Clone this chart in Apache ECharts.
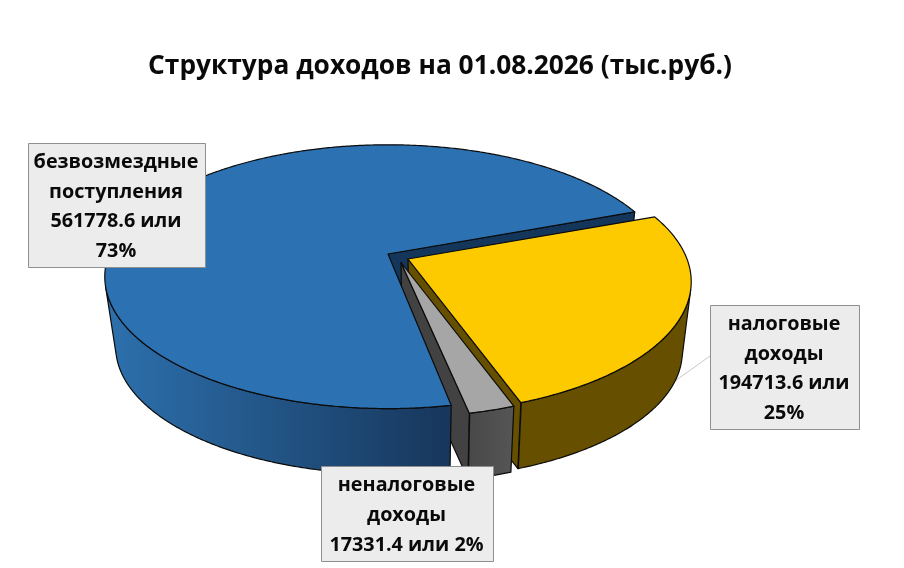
<!DOCTYPE html>
<html>
<head>
<meta charset="utf-8">
<style>html,body{margin:0;padding:0;background:#fff}#c{width:904px;height:568px}</style>
<script src="https://cdn.jsdelivr.net/npm/echarts@6/dist/echarts.min.js"></script>
</head>
<body>
<div id="c"></div>
<script>
const titleText = 'Структура доходов на 01.08.2026 (тыс.руб.)';
const categories = ['налоговые доходы', 'неналоговые доходы', 'безвозмездные поступления'];
const values = [194713.6, 17331.4, 561778.6];
const percents = [25, 2, 73];
const labelBreaks = [
  ['налоговые', 'доходы', '@v или', '@p%'],
  ['неналоговые', 'доходы', '@v или @p%'],
  ['безвозмездные', 'поступления', '@v или', '@p%']
];
const topColors = ['#fdca00', '#a6a6a6', '#2c72b3'];

/* 3D projection settings of the tilted pie */
const START = 69.6, R = 279, B = 128, K = 0.172, DEPTH_SCALE = 0.965, DEPTH_Y = 71, DEPTH_X = 1;
const APEX = [[408, 259], [401, 262.5], [388, 254]];
const START_NUDGE = [0, 0, 0.9]; /* the exploded blue slice reads slightly narrower under perspective */
const BOXES = [[710, 305, 149, 124], [321, 466, 172, 95], [28, 143, 177, 124]];

const total = values.reduce((a, b) => a + b, 0);
const spans = []; let acc = START;
values.forEach((v, i) => { const s = v / total * 360; spans.push([acc + START_NUDGE[i], acc + s]); acc += s; });

function pt(i, deg, bottom) {
  const t = deg * Math.PI / 180, u = Math.sin(t), v = -Math.cos(t), s = 1 / (1 - K * v);
  const dx = R * u * s, dy = B * v * s, a = APEX[i];
  return bottom ? [a[0] + DEPTH_X + DEPTH_SCALE * dx, a[1] + DEPTH_Y + DEPTH_SCALE * dy]
                : [a[0] + dx, a[1] + dy];
}
function arc(i, a, b, bottom) {
  const out = [], n = Math.max(2, Math.ceil(Math.abs(b - a) * 2));
  for (let j = 0; j <= n; j++) out.push(pt(i, a + (b - a) * j / n, bottom));
  return out;
}
function topPts(i) { return [[APEX[i][0], APEX[i][1]]].concat(arc(i, spans[i][0], spans[i][1], false)); }
function outerPts(i) {
  let lo = null, hi = null;
  for (let d = spans[i][0]; d <= spans[i][1]; d += 0.25) {
    const p = pt(i, d), q = pt(i, d + 0.25), b = pt(i, d, true);
    const cross = (q[0] - p[0]) * (b[1] - p[1]) - (q[1] - p[1]) * (b[0] - p[0]);
    if (cross < 0) { if (lo === null) lo = d; hi = d; }
  }
  return arc(i, lo, hi, false).concat(arc(i, hi, lo, true));
}
function wallPts(i, deg) {
  return [[APEX[i][0], APEX[i][1]], pt(i, deg), pt(i, deg, true), [APEX[i][0] + DEPTH_X, APEX[i][1] + DEPTH_Y]];
}
const grad = (x, x2, c1, c2) => ({ type: 'linear', x, y: 0, x2, y2: 0, global: true,
  colorStops: [{ offset: 0, color: c1 }, { offset: 1, color: c2 }] });

const layers = [
  { pts: () => wallPts(2, spans[2][1]), fill: '#14365a' },
  { pts: () => wallPts(0, spans[0][1]), fill: '#665000' },
  { pts: () => wallPts(1, spans[1][1]), fill: '#424242' },
  { pts: () => outerPts(2), fill: grad(115, 452, '#2c6fab', '#17365b') },
  { pts: () => topPts(2), fill: topColors[2] },
  { pts: () => outerPts(1), fill: grad(468, 512, '#484848', '#555555') },
  { pts: () => topPts(1), fill: topColors[1] },
  { pts: () => outerPts(0), fill: '#665000' },
  { pts: () => topPts(0), fill: topColors[0] }
];

const fmt = i => labelBreaks[i].map(s => s.replace('@v', values[i]).replace('@p', percents[i]));
const labelGraphics = [];
const FONT = '"Open Sans"';
values.forEach((_, i) => {
  const [x, y, w, h] = BOXES[i];
  labelGraphics.push({ type: 'rect', shape: { x: x + .5, y: y + .5, width: w, height: h }, z: 50,
    style: { fill: '#ececec', stroke: '#8f8f8f', lineWidth: 1 } });
  labelGraphics.push({ type: 'text', x: x + w / 2 - .5, y: y + h / 2 + 2, z: 51,
    style: { text: fmt(i).join('\n'), fill: '#0a0a0a', align: 'center', verticalAlign: 'middle',
      font: 'bold 19.8px ' + FONT, lineHeight: 29.7 } });
});

const chart = echarts.init(document.getElementById('c'), null, { renderer: 'canvas' });
chart.setOption({
  animation: false,
  backgroundColor: '#fff',
  title: { text: titleText, left: 435, top: 49, textAlign: 'center',
    textStyle: { fontFamily: FONT, fontWeight: 'bold', fontSize: 26.3, color: '#0a0a0a' } },
  series: [
    { type: 'custom', coordinateSystem: 'none', silent: true, z: 1,
      data: [[0]],
      renderItem: () => ({ type: 'line', shape: { x1: 675, y1: 381, x2: 710, y2: 356 },
        style: { stroke: '#c9c9c9', lineWidth: 1 } }) },
    { type: 'custom', coordinateSystem: 'none', silent: true, z: 2,
      data: layers.map((_, i) => [i]),
      renderItem: (params) => {
        const l = layers[params.dataIndex];
        return { type: 'polygon', shape: { points: l.pts() },
          style: { fill: l.fill, stroke: '#0b0b0b', lineWidth: 1.2, lineJoin: 'round' } };
      } }
  ],
  graphic: labelGraphics
});
</script>
</body>
</html>
